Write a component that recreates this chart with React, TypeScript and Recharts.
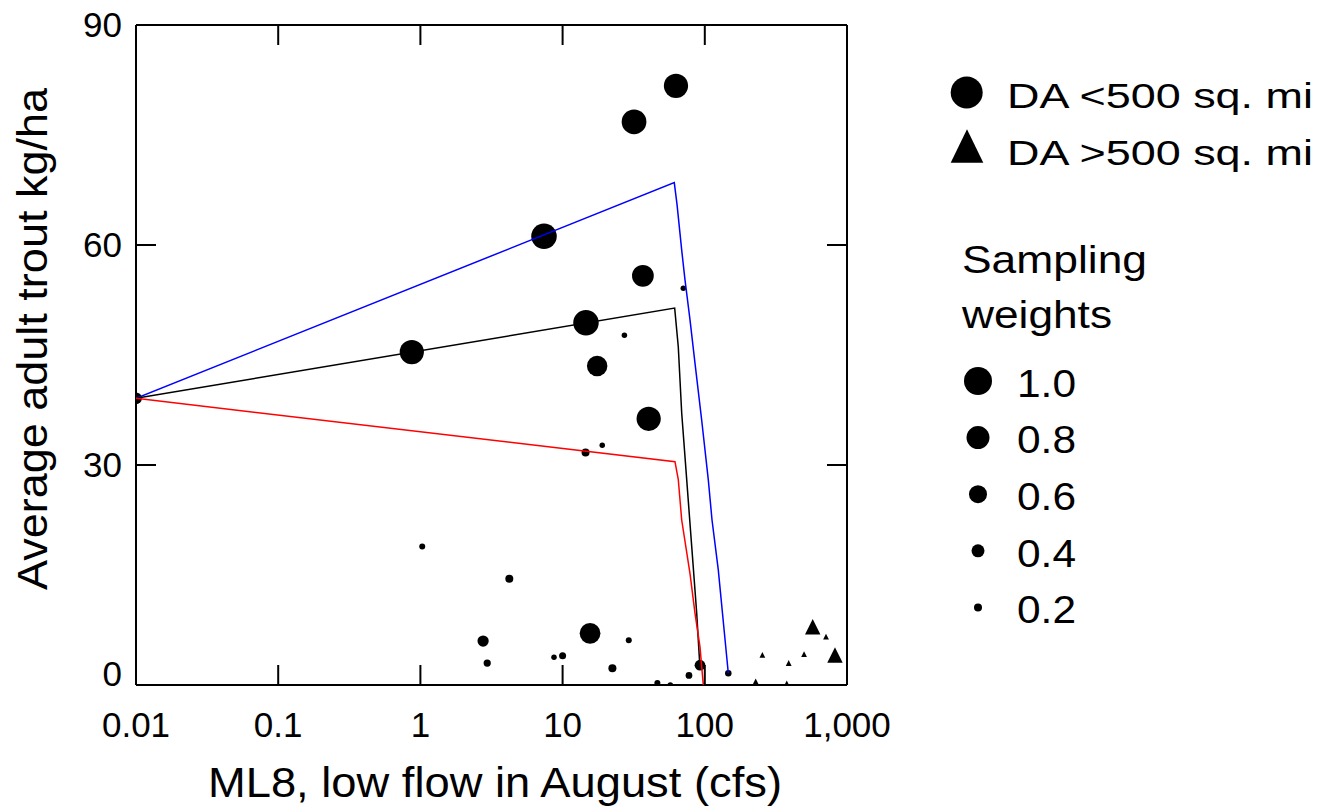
import React from 'react'
import {
  ComposedChart,
  Scatter,
  XAxis,
  YAxis,
  ReferenceLine,
  Legend,
} from 'recharts'

// sites with drainage area < 500 sq. mi (flow cfs, trout kg/ha, sampling weight)
const smallBasins = [
  { x: 62.7, y: 81.7, w: 0.85 },
  { x: 31.8, y: 76.8, w: 0.87 },
  { x: 7.4, y: 61.2, w: 0.9 },
  { x: 36.7, y: 55.8, w: 0.75 },
  { x: 14.6, y: 49.4, w: 0.9 },
  { x: 0.87, y: 45.4, w: 0.85 },
  { x: 17.5, y: 43.5, w: 0.7 },
  { x: 40.3, y: 36.3, w: 0.85 },
  { x: 27.2, y: 47.7, w: 0.1 },
  { x: 70.6, y: 54.1, w: 0.1 },
  { x: 14.5, y: 31.7, w: 0.2 },
  { x: 19.0, y: 32.7, w: 0.1 },
  { x: 1.03, y: 18.9, w: 0.12 },
  { x: 4.22, y: 14.5, w: 0.2 },
  { x: 2.76, y: 6.0, w: 0.33 },
  { x: 2.95, y: 3.0, w: 0.17 },
  { x: 8.7, y: 3.8, w: 0.1 },
  { x: 10.0, y: 4.0, w: 0.16 },
  { x: 15.6, y: 7.05, w: 0.71 },
  { x: 29.2, y: 6.1, w: 0.12 },
  { x: 22.4, y: 2.3, w: 0.2 },
  { x: 92.5, y: 2.7, w: 0.31 },
  { x: 77.4, y: 1.3, w: 0.15 },
  { x: 46.4, y: 0.27, w: 0.12 },
  { x: 57.2, y: 0, w: 0.1 },
  { x: 146.3, y: 1.6, w: 0.14 },
  { x: 0.01, y: 39.1, w: 0.35 },
]

// sites with drainage area > 500 sq. mi
const largeBasins = [
  { x: 574, y: 7.95, w: 1.0 },
  { x: 823, y: 4.1, w: 1.0 },
  { x: 712, y: 6.6, w: 0.3 },
  { x: 254, y: 4.1, w: 0.3 },
  { x: 499, y: 4.2, w: 0.3 },
  { x: 389, y: 3.0, w: 0.3 },
  { x: 228, y: 0.5, w: 0.3 },
  { x: 377, y: 0.23, w: 0.3 },
]

const blueCurve = [
  { x: 0.01, y: 39.1 },
  { x: 61.0, y: 68.5 },
  { x: 63.8, y: 65.5 },
  { x: 68.8, y: 59.3 },
  { x: 72.6, y: 55.2 },
  { x: 78.7, y: 49.8 },
  { x: 85.3, y: 43.9 },
  { x: 95.1, y: 36.1 },
  { x: 105.8, y: 28.0 },
  { x: 112.4, y: 22.5 },
  { x: 124.4, y: 15.7 },
  { x: 146.3, y: 1.6 },
]

const blackCurve = [
  { x: 0.01, y: 39.1 },
  { x: 61.4, y: 51.4 },
  { x: 65.1, y: 46.1 },
  { x: 68.8, y: 37.1 },
  { x: 74.6, y: 28.0 },
  { x: 80.9, y: 18.9 },
  { x: 87.7, y: 9.8 },
  { x: 92.5, y: 2.3 },
]

const redCurve = [
  { x: 0.01, y: 39.1 },
  { x: 61.7, y: 30.45 },
  { x: 65.1, y: 28.0 },
  { x: 68.8, y: 22.5 },
  { x: 78.7, y: 15.2 },
  { x: 85.3, y: 9.8 },
  { x: 92.5, y: 5.2 },
  { x: 97.6, y: 0 },
]

const xTicks = [0.01, 0.1, 1, 10, 100, 1000]
const yTicks = [0, 30, 60, 90]
const legendWeights = [1.0, 0.8, 0.6, 0.4, 0.2]

const FONT = "'Liberation Sans', Arial, Helvetica, sans-serif"
const W = 1333
const H = 808
const PLOT_TOP = 25
const PLOT_RIGHT = 847
const TICK_LEN = 20

const radius = (w: number) => 1.5 + 12.5 * w

const formatX = (v: number) => (v >= 1000 ? v.toLocaleString('en-US') : String(v))

const XTick = ({ x, y, payload }: any) => (
  <g>
    <line x1={x} y1={y} x2={x} y2={y - TICK_LEN} stroke="#000" strokeWidth={2} />
    <line x1={x} y1={PLOT_TOP} x2={x} y2={PLOT_TOP + TICK_LEN} stroke="#000" strokeWidth={2} />
    <text x={x} y={y + 52} textAnchor="middle" fontSize={35} fontFamily={FONT} fill="#000">
      {formatX(payload.value)}
    </text>
  </g>
)

const YTick = ({ x, y, payload }: any) => {
  const labelY = payload.value === 0 ? y - 11 : y
  return (
    <g>
      <line x1={x} y1={y} x2={x + TICK_LEN} y2={y} stroke="#000" strokeWidth={2} />
      <line x1={PLOT_RIGHT} y1={y} x2={PLOT_RIGHT - TICK_LEN} y2={y} stroke="#000" strokeWidth={2} />
      <text x={x - 14} y={labelY + 12} textAnchor="end" fontSize={35} fontFamily={FONT} fill="#000">
        {payload.value}
      </text>
    </g>
  )
}

const Dot = (props: any) => {
  const { cx, cy, payload } = props
  return <circle cx={cx} cy={cy} r={radius(payload.w)} fill="#000" />
}

const Tri = (props: any) => {
  const { cx, cy, payload } = props
  const h = radius(payload.w) * 0.55
  return (
    <polygon
      points={`${cx},${cy - h} ${cx - h},${cy + h} ${cx + h},${cy + h}`}
      fill="#000"
    />
  )
}

const NoShape = () => <g />

const XTitle = () => (
  <text x={495} y={797} textAnchor="middle" fontSize={42} fontFamily={FONT} fill="#000"
    textLength={574} lengthAdjust="spacingAndGlyphs">
    ML8, low flow in August (cfs)
  </text>
)

const YTitle = () => (
  <text transform="translate(47,339) rotate(-90)" textAnchor="middle" fontSize={42}
    fontFamily={FONT} fill="#000" textLength={502} lengthAdjust="spacingAndGlyphs">
    Average adult trout kg/ha
  </text>
)

const LegendBox = () => {
  const ox = 930
  const oy = 60
  const txt = { fontFamily: FONT, fill: '#000' }
  return (
    <svg width={403} height={600} style={{ display: 'block' }}>
      <g transform={`translate(${-ox},${-oy})`}>
        <circle cx={966.7} cy={92.5} r={16} fill="#000" />
        <text x={1007} y={108.3} fontSize={35} textLength={306} lengthAdjust="spacingAndGlyphs" {...txt}>
          DA &lt;500 sq. mi
        </text>
        <polygon points="967,129.3 950.7,162.7 983.3,162.7" fill="#000" />
        <text x={1007} y={165} fontSize={35} textLength={306} lengthAdjust="spacingAndGlyphs" {...txt}>
          DA &gt;500 sq. mi
        </text>
        <text x={962} y={273.3} fontSize={39} textLength={185} lengthAdjust="spacingAndGlyphs" {...txt}>
          Sampling
        </text>
        <text x={962} y={328.3} fontSize={39} textLength={150} lengthAdjust="spacingAndGlyphs" {...txt}>
          weights
        </text>
        {legendWeights.map((w, i) => (
          <g key={w}>
            <circle cx={978} cy={381 + i * 56.6} r={radius(w)} fill="#000" />
            <text x={1017} y={396.7 + i * 56.6} fontSize={39} textLength={59}
              lengthAdjust="spacingAndGlyphs" {...txt}>
              {w.toFixed(1)}
            </text>
          </g>
        ))}
      </g>
    </svg>
  )
}

export default function App() {
  return (
    <div style={{ position: 'absolute', left: 0, top: 0, width: W, height: H, background: '#fff' }}>
      <ComposedChart
        width={W}
        height={H}
        margin={{ top: PLOT_TOP, right: W - PLOT_RIGHT, bottom: 0, left: 0 }}
      >
        <XAxis
          type="number"
          dataKey="x"
          scale="log"
          domain={[0.01, 1000]}
          ticks={xTicks}
          allowDataOverflow
          height={123}
          tickSize={0}
          tickMargin={0}
          tickLine={false}
          axisLine={{ stroke: '#000', strokeWidth: 2 }}
          tick={<XTick />}
          interval={0}
          label={<XTitle />}
        />
        <YAxis
          type="number"
          dataKey="y"
          domain={[0, 90]}
          ticks={yTicks}
          allowDataOverflow
          width={136}
          tickSize={0}
          tickMargin={0}
          tickLine={false}
          axisLine={{ stroke: '#000', strokeWidth: 2 }}
          tick={<YTick />}
          interval={0}
          label={<YTitle />}
        />
        <ReferenceLine y={90} stroke="#000" strokeWidth={2} />
        <ReferenceLine x={1000} stroke="#000" strokeWidth={2} />
        <Scatter data={smallBasins} shape={<Dot />} isAnimationActive={false} />
        <Scatter data={largeBasins} shape={<Tri />} isAnimationActive={false} />
        <Scatter data={blueCurve} line={{ stroke: '#0000ff', strokeWidth: 1.5 }} shape={<NoShape />} isAnimationActive={false} />
        <Scatter data={blackCurve} line={{ stroke: '#000', strokeWidth: 1.5 }} shape={<NoShape />} isAnimationActive={false} />
        <Scatter data={redCurve} line={{ stroke: '#ff0000', strokeWidth: 1.5 }} shape={<NoShape />} isAnimationActive={false} />
        <Legend
          content={<LegendBox />}
          layout="horizontal"
          verticalAlign="middle"
          align="center"
          wrapperStyle={{ position: 'absolute', left: 930, top: 60, width: 403, height: 600 }}
        />
      </ComposedChart>
    </div>
  )
}
